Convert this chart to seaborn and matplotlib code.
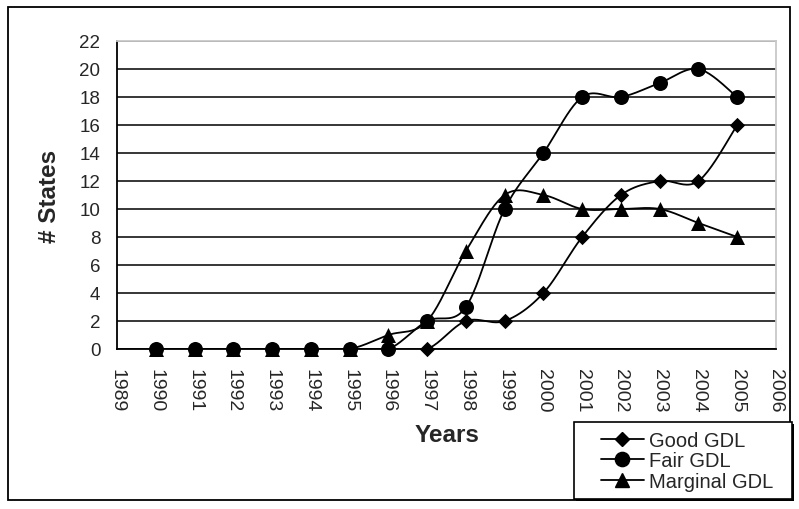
import matplotlib
matplotlib.use("Agg")
import matplotlib.pyplot as plt
from matplotlib.lines import Line2D
from matplotlib.patches import Rectangle
import seaborn as sns
import numpy as np

years = list(range(1990, 2006))
good = [0, 0, 0, 0, 0, 0, 0, 0, 2, 2, 4, 8, 11, 12, 12, 16]
fair = [0, 0, 0, 0, 0, 0, 0, 2, 3, 10, 14, 18, 18, 19, 20, 18]
marginal = [0, 0, 0, 0, 0, 0, 1, 2, 7, 11, 11, 10, 10, 10, 9, 8]
series_names = ["Good GDL", "Fair GDL", "Marginal GDL"]
x_ticks = list(range(1989, 2007))
y_ticks = list(range(0, 23, 2))


def excel_smooth(x, y, n=24):
    # bezier smoothing like excel's "smoothed line"
    pts = np.column_stack([x, y]).astype(float)
    out = [pts[0]]
    t = np.linspace(0, 1, n)[1:, None]
    for i in range(len(pts) - 1):
        p0 = pts[i - 1] if i > 0 else pts[i]
        p1, p2 = pts[i], pts[i + 1]
        p3 = pts[i + 2] if i + 2 < len(pts) else pts[i + 1]
        c1 = p1 + (p2 - p0) / 6
        c2 = p2 - (p3 - p1) / 6
        seg = (1 - t)**3 * p1 + 3 * (1 - t)**2 * t * c1 + 3 * (1 - t) * t**2 * c2 + t**3 * p2
        out.extend(seg)
    return np.array(out)


sns.set_style("white")
plt.rcParams['font.family'] = ['Liberation Sans', 'DejaVu Sans']

W, H = 799, 510
fig = plt.figure(figsize=(W / 100, H / 100), dpi=100)
ax = fig.add_axes([117 / W, 1 - 350 / H, (776 - 117) / W, (350 - 42) / H])

markers = {"Good GDL": ("D", 7.8), "Fair GDL": ("o", 10.8), "Marginal GDL": ("^", 10.8)}
for name, vals in zip(series_names, [good, fair, marginal]):
    curve = excel_smooth(years, vals)
    ax.plot(curve[:, 0], curve[:, 1], color="black", lw=1.3, zorder=3)
    m, ms = markers[name]
    sns.scatterplot(x=years, y=vals, marker=m, s=ms**2, color="black",
                    edgecolor="black", linewidth=0, ax=ax, zorder=4, clip_on=False)

ax.set_xlim(1989, 2006)
ax.set_ylim(0, 22)
ax.set_xticks(x_ticks)
ax.set_yticks(y_ticks)
ax.set_xticklabels([str(v) for v in x_ticks], rotation=270, fontsize=14)
ax.set_yticklabels([str(v) for v in y_ticks], fontsize=13.5)
ax.tick_params(axis="x", direction="out", length=6, width=1.2, pad=8, color="black")
ax.tick_params(axis="y", direction="out", length=5, width=1.2, pad=7, color="black")
ax.yaxis.grid(True, color="black", lw=1.1)
ax.set_axisbelow(True)
for s in ["left", "bottom"]:
    ax.spines[s].set_color("black")
    ax.spines[s].set_linewidth(1.3)
for s in ["top", "right"]:
    ax.spines[s].set_color("#c8c8c8")
    ax.spines[s].set_linewidth(1.3)

ax.set_xlabel("Years", fontsize=17.5, fontweight="bold")
ax.set_ylabel("# States", fontsize=17.5, fontweight="bold")
ax.xaxis.set_label_coords((447 - 117) / (776 - 117), -(435 - 350) / (350 - 42))
ax.yaxis.set_label_coords(-(117 - 50) / (776 - 117), (350 - 196) / (350 - 42))
ax.xaxis.label.set_va("center")
ax.yaxis.label.set_va("center")

# outer chart frame
fig.patches.append(Rectangle((8 / W, 1 - 501 / H), (790 - 8) / W, (501 - 8) / H,
                             transform=fig.transFigure, fill=False, ec="black", lw=1.3))

# legend box with shadow edge
fig.patches.append(Rectangle((576 / W, 1 - 502 / H), (794 - 576) / W, (502 - 425) / H,
                             transform=fig.transFigure, fc="black", ec="black", lw=0, zorder=5))
fig.patches.append(Rectangle((574 / W, 1 - 500 / H), (792 - 574) / W, (500 - 423) / H,
                             transform=fig.transFigure, fc="white", ec="black", lw=1.2, zorder=6))
handles = [Line2D([], [], color="black", lw=1.3, marker=markers[n][0],
                  markersize=markers[n][1] * 0.95) for n in series_names]
leg = fig.legend(handles, series_names, loc="center", frameon=False, fontsize=14.5,
                 bbox_to_anchor=(687 / W, 1 - 462 / H), handlelength=2.1,
                 handletextpad=0.25, labelspacing=0.08, borderpad=0)
leg.set_zorder(7)

fig.savefig("out.png", dpi=100)
